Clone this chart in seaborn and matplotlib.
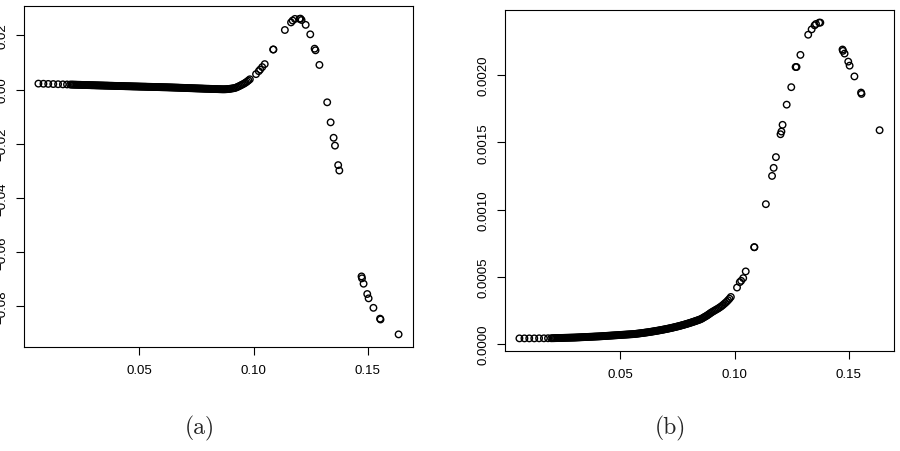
import numpy as np
import matplotlib
matplotlib.use("Agg")
import matplotlib.pyplot as plt
import seaborn as sns

sns.set_theme(style="white")
plt.rcParams["font.family"] = ["Liberation Sans", "DejaVu Sans"]
plt.rcParams["axes.unicode_minus"] = True

# ---- data ----
# sparse start of the dense curve
x_start = [0.0060, 0.0082, 0.0103, 0.0125, 0.0146, 0.0167, 0.0185, 0.0199]
a_start_e3 = [2.20, 2.15, 2.09, 2.04, 1.98, 1.93, 1.89, 1.85]
b_start_e5 = [4.2, 4.2, 4.2, 4.2, 4.25, 4.25, 4.3, 4.3]

# densely packed part of the curve
x_dense = [0.0205, 0.0210, 0.0215, 0.0220, 0.0225, 0.0230, 0.0235, 0.0240, 0.0245, 0.0250,
           0.0255, 0.0260, 0.0265, 0.0270, 0.0275, 0.0280, 0.0285, 0.0290, 0.0295, 0.0300,
           0.0305, 0.0310, 0.0315, 0.0320, 0.0325, 0.0330, 0.0335, 0.0340, 0.0345, 0.0350,
           0.0355, 0.0360, 0.0365, 0.0370, 0.0375, 0.0380, 0.0385, 0.0390, 0.0395, 0.0400,
           0.0405, 0.0410, 0.0415, 0.0420, 0.0425, 0.0430, 0.0435, 0.0440, 0.0445, 0.0450,
           0.0455, 0.0460, 0.0465, 0.0470, 0.0475, 0.0480, 0.0485, 0.0490, 0.0495, 0.0500,
           0.0505, 0.0510, 0.0515, 0.0520, 0.0525, 0.0530, 0.0535, 0.0540, 0.0545, 0.0550,
           0.0555, 0.0560, 0.0565, 0.0570, 0.0575, 0.0580, 0.0585, 0.0590, 0.0595, 0.0600,
           0.0605, 0.0610, 0.0615, 0.0620, 0.0625, 0.0630, 0.0635, 0.0640, 0.0645, 0.0650,
           0.0655, 0.0660, 0.0665, 0.0670, 0.0675, 0.0680, 0.0685, 0.0690, 0.0695, 0.0700,
           0.0705, 0.0710, 0.0715, 0.0720, 0.0725, 0.0730, 0.0735, 0.0740, 0.0745, 0.0750,
           0.0755, 0.0760, 0.0765, 0.0770, 0.0775, 0.0780, 0.0785, 0.0790, 0.0795, 0.0800,
           0.0805, 0.0810, 0.0815, 0.0820, 0.0825, 0.0830, 0.0835, 0.0840, 0.0845, 0.0850,
           0.0855, 0.0860, 0.0865, 0.0870, 0.0875, 0.0880, 0.0885, 0.0890, 0.0895, 0.0900]
a_dense_e3 = [1.84, 1.83, 1.81, 1.80, 1.79, 1.77, 1.76, 1.75, 1.74, 1.72,
              1.71, 1.70, 1.69, 1.67, 1.66, 1.65, 1.64, 1.62, 1.61, 1.60,
              1.59, 1.57, 1.56, 1.55, 1.54, 1.52, 1.51, 1.50, 1.49, 1.47,
              1.46, 1.45, 1.44, 1.42, 1.41, 1.40, 1.39, 1.37, 1.36, 1.35,
              1.34, 1.32, 1.31, 1.30, 1.29, 1.28, 1.27, 1.25, 1.24, 1.23,
              1.22, 1.21, 1.20, 1.18, 1.17, 1.16, 1.15, 1.14, 1.13, 1.11,
              1.10, 1.09, 1.08, 1.07, 1.06, 1.05, 1.03, 1.02, 1.01, 1.00,
              0.99, 0.98, 0.96, 0.95, 0.94, 0.93, 0.92, 0.91, 0.89, 0.88,
              0.87, 0.86, 0.85, 0.84, 0.83, 0.81, 0.80, 0.79, 0.77, 0.76,
              0.74, 0.73, 0.71, 0.70, 0.68, 0.66, 0.65, 0.63, 0.62, 0.60,
              0.59, 0.57, 0.55, 0.54, 0.52, 0.51, 0.49, 0.48, 0.46, 0.44,
              0.43, 0.41, 0.40, 0.38, 0.37, 0.35, 0.33, 0.32, 0.30, 0.29,
              0.28, 0.26, 0.25, 0.23, 0.22, 0.21, 0.19, 0.18, 0.17, 0.15,
              0.14, 0.12, 0.11, 0.11, 0.12, 0.14, 0.17, 0.20, 0.26, 0.33]
b_dense_e5 = [4.33, 4.35, 4.38, 4.40, 4.43, 4.45, 4.48, 4.50, 4.53, 4.55,
              4.58, 4.60, 4.63, 4.65, 4.68, 4.70, 4.73, 4.75, 4.78, 4.80,
              4.84, 4.88, 4.92, 4.96, 5.00, 5.05, 5.09, 5.13, 5.17, 5.21,
              5.25, 5.29, 5.33, 5.37, 5.41, 5.45, 5.50, 5.54, 5.58, 5.62,
              5.66, 5.70, 5.76, 5.81, 5.87, 5.93, 5.98, 6.04, 6.10, 6.15,
              6.21, 6.27, 6.32, 6.38, 6.44, 6.49, 6.55, 6.61, 6.66, 6.72,
              6.78, 6.83, 6.89, 6.95, 7.00, 7.06, 7.12, 7.17, 7.23, 7.29,
              7.34, 7.40, 7.50, 7.60, 7.70, 7.80, 7.91, 8.02, 8.13, 8.24,
              8.36, 8.48, 8.60, 8.72, 8.85, 8.98, 9.11, 9.25, 9.39, 9.53,
              9.67, 9.82, 9.97, 10.12, 10.28, 10.44, 10.60, 10.76, 10.93, 11.10,
              11.27, 11.45, 11.63, 11.82, 12.01, 12.20, 12.40, 12.60, 12.81, 13.02,
              13.24, 13.46, 13.69, 13.92, 14.16, 14.40, 14.65, 14.90, 15.16, 15.42,
              15.69, 15.96, 16.24, 16.52, 16.81, 17.10, 17.40, 17.70, 18.01, 18.32,
              18.70, 19.20, 19.70, 20.20, 20.70, 21.20, 21.80, 22.40, 23.00, 23.60]

# end of the dense curve, where circles start to separate
x_tail = [0.0906, 0.0912, 0.0918, 0.0924, 0.0930, 0.0936, 0.0942, 0.0948, 0.0954,
          0.0960, 0.0966, 0.0972, 0.0978, 0.0984]
a_tail_e3 = [0.40, 0.49, 0.58, 0.75, 0.98, 1.22, 1.47, 1.73, 2.00, 2.28, 2.60, 2.97, 3.37, 3.80]
b_tail_e5 = [24.2, 24.8, 25.4, 26.0, 26.6, 27.3, 28.0, 28.8, 29.7, 30.6, 31.5, 32.6, 33.7, 35.0]

# isolated points
x_sparse = [0.1011, 0.1023, 0.1029, 0.1038, 0.1049, 0.1086, 0.1087, 0.1137, 0.1164,
            0.1171, 0.1181, 0.1201, 0.1205, 0.1210, 0.1228, 0.1248, 0.1267, 0.1271,
            0.1288, 0.1322, 0.1337, 0.1350, 0.1356, 0.1370, 0.1375, 0.1472, 0.1474,
            0.1481, 0.1497, 0.1503, 0.1524, 0.1553, 0.1555, 0.1634]
a_sparse_e3 = [5.7, 6.8, 7.4, 8.3, 9.4, 14.8, 14.8, 22.0, 24.8,
               25.5, 26.1, 26.1, 26.2, 25.7, 23.9, 20.4, 15.1, 14.5,
               9.1, -4.7, -12.1, -17.8, -20.7, -27.9, -29.9, -69.0, -69.7,
               -71.7, -75.5, -77.1, -80.6, -84.6, -84.9, -90.4]
b_sparse_e4 = [4.2, 4.6, 4.7, 4.9, 5.4, 7.2, 7.2, 10.4, 12.5,
               13.1, 13.9, 15.6, 15.8, 16.3, 17.8, 19.1, 20.6, 20.6,
               21.5, 23.0, 23.4, 23.7, 23.8, 23.9, 23.9, 21.9, 21.8,
               21.6, 21.0, 20.7, 19.9, 18.7, 18.6, 15.9]

x_ticks = [0.05, 0.10, 0.15]
x_tick_labels = ["0.05", "0.10", "0.15"]
a_yticks = [-0.08, -0.06, -0.04, -0.02, 0.00, 0.02]
a_ytick_labels = ["\u22120.08", "\u22120.06", "\u22120.04", "\u22120.02", "0.00", "0.02"]
b_yticks = [0.0000, 0.0005, 0.0010, 0.0015, 0.0020]
b_ytick_labels = ["0.0000", "0.0005", "0.0010", "0.0015", "0.0020"]
panel_labels = ["(a)", "(b)"]

x_all = np.array(x_start + x_dense + x_tail + x_sparse)
y_a = np.concatenate([np.array(a_start_e3 + a_dense_e3 + a_tail_e3) * 1e-3,
                      np.array(a_sparse_e3) * 1e-3])
y_b = np.concatenate([np.array(b_start_e5 + b_dense_e5 + b_tail_e5) * 1e-5,
                      np.array(b_sparse_e4) * 1e-4])

fig = plt.figure(figsize=(9, 4.52), dpi=100)
ax_a = fig.add_axes([24 / 900, 104 / 452, 389 / 900, 341 / 452])
ax_b = fig.add_axes([505 / 900, 100 / 452, 389 / 900, 341 / 452])


def r_lim(v):
    lo, hi = float(np.min(v)), float(np.max(v))
    d = 0.04 * (hi - lo)
    return lo - d, hi + d


for ax, y, yt, ytl in [(ax_a, y_a, a_yticks, a_ytick_labels),
                       (ax_b, y_b, b_yticks, b_ytick_labels)]:
    sns.scatterplot(x=x_all, y=y, ax=ax, marker="o", s=22,
                    facecolor="none", edgecolor="black", linewidth=1.0,
                    legend=False)
    ax.set_xlim(*r_lim(x_all))
    ax.set_ylim(*r_lim(y))
    ax.set_xticks(x_ticks)
    ax.set_xticklabels(x_tick_labels)
    ax.set_yticks(yt)
    ax.set_yticklabels(ytl, rotation=90, va="center")
    ax.tick_params(axis="both", direction="out", length=6, width=0.8,
                   colors="black", labelsize=9.5, left=True, bottom=True)
    ax.tick_params(axis="x", pad=6.5)
    ax.tick_params(axis="y", pad=5.5)
    ax.set_xlabel("")
    ax.set_ylabel("")
    ax.grid(False)
    ax.set_facecolor("white")
    for sp in ax.spines.values():
        sp.set_visible(True)
        sp.set_color("black")
        sp.set_linewidth(0.8)

fig.text(200 / 900, 1 - 428 / 452, panel_labels[0], family="cmr10", fontsize=17,
         ha="center", va="center")
fig.text(670 / 900, 1 - 428 / 452, panel_labels[1], family="cmr10", fontsize=17,
         ha="center", va="center")

fig.savefig("out.png", dpi=100, facecolor="white")
